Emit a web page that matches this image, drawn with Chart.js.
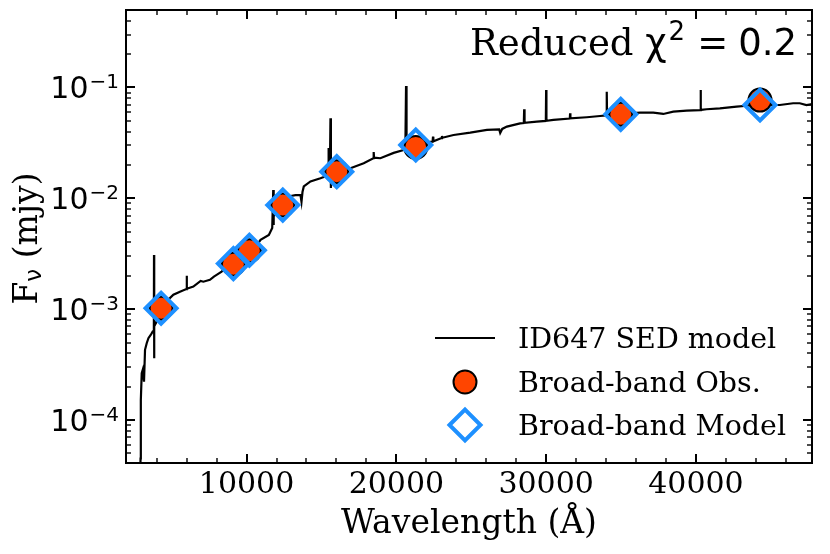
<!DOCTYPE html>
<html>
<head>
<meta charset="utf-8">
<script src="https://cdn.jsdelivr.net/npm/chart.js@4.4.0/dist/chart.umd.min.js"></script>
<style>
html, body { margin: 0; padding: 0; background: #fff; }
#wrap { width: 830px; height: 554px; }
</style>
</head>
<body>
<div id="wrap"><canvas id="chart" width="830" height="554"></canvas></div>
<script>
// SED model spectrum (wavelength in Angstrom, flux in mJy)
const sedWave = [2850, 2920, 2940, 3000, 3067, 3153, 3220, 3333, 3447, 3600, 3733, 3810, 3820, 3828, 3840,
  4133, 4667, 5113, 5553, 5980, 6000, 6020, 6447, 6933, 7113, 7553, 7820, 8000, 8333, 8667, 9600,
  10600, 10933, 11487, 11713, 11780, 11800, 11820, 12000, 12200, 12933, 13267, 13600, 13667, 13733, 13820,
  14267, 14933, 15333, 15440, 15467, 15490, 15560, 15600, 15630, 15660, 16933, 17820, 18460, 18487, 18510,
  18933, 19820, 20487, 20600, 20647, 20680, 21313, 22267, 22420, 22447, 22470, 23020, 23047, 23070, 23820,
  24933, 26047, 26867, 26933, 27067, 27380, 28267, 28510, 28533, 28560, 29380, 29980, 30000, 30020, 30487,
  31580, 31600, 31620, 32713, 33600, 34027, 34047, 34067, 34980, 36267, 37153, 37820, 38487, 39380,
  40293, 40313, 40333, 40713, 41600, 42713, 43600, 44600, 45600, 46487, 46933, 47380, 47800];
const sedFlux = [1.0e-5, 4.5e-5, 1.52e-4, 2.65e-4, 2.84e-4, 2.22e-4, 4.30e-4, 4.93e-4, 5.48e-4, 5.86e-4, 6.28e-4, 6.40e-4, 3.09e-3, 3.61e-4, 7.00e-4,
  8.36e-4, 1.18e-3, 1.35e-3, 1.44e-3, 1.52e-3, 2.00e-3, 1.53e-3, 1.60e-3, 1.80e-3, 1.77e-3, 1.84e-3, 1.97e-3, 2.04e-3, 2.18e-3, 2.46e-3, 2.96e-3,
  3.65e-3, 4.22e-3, 4.68e-3, 5.41e-3, 1.19e-2, 5.75e-3, 6.84e-3, 8.73e-3, 1.01e-2, 1.05e-2, 1.07e-2, 1.07e-2, 9.33e-3, 1.14e-2, 1.28e-2,
  1.42e-2, 1.52e-2, 1.59e-2, 1.60e-2, 2.85e-2, 1.60e-2, 1.62e-2, 5.27e-2, 1.24e-2, 1.65e-2, 1.87e-2, 2.07e-2, 2.30e-2, 2.62e-2, 2.33e-2,
  2.30e-2, 2.57e-2, 2.73e-2, 2.78e-2, 1.03e-1, 2.80e-2, 2.97e-2, 3.24e-2, 3.25e-2, 3.60e-2, 3.27e-2, 3.50e-2, 3.65e-2, 3.52e-2, 3.73e-2,
  3.91e-2, 4.14e-2, 4.18e-2, 3.89e-2, 4.23e-2, 4.44e-2, 4.75e-2, 4.78e-2, 6.36e-2, 4.80e-2, 4.92e-2, 4.99e-2, 9.49e-2, 5.00e-2, 5.10e-2,
  5.25e-2, 5.85e-2, 5.26e-2, 5.39e-2, 5.53e-2, 5.60e-2, 9.17e-2, 5.61e-2, 5.75e-2, 5.93e-2, 5.93e-2, 5.77e-2, 6.05e-2, 6.18e-2,
  6.26e-2, 9.49e-2, 6.27e-2, 6.36e-2, 6.49e-2, 6.71e-2, 6.88e-2, 6.95e-2, 6.95e-2, 7.21e-2, 7.21e-2, 6.95e-2, 7.10e-2];

// broad-band photometry
const bandWave = [4292, 9119, 10187, 12417, 16021, 21295, 34980, 44279];
const obsFlux = [1.02e-3, 2.55e-3, 3.36e-3, 8.7e-3, 1.74e-2, 2.88e-2, 5.73e-2, 7.7e-2];
const modelFlux = [1.02e-3, 2.58e-3, 3.40e-3, 8.7e-3, 1.74e-2, 3.03e-2, 5.73e-2, 6.95e-2];

const xTicks = [10000, 20000, 30000, 40000];
const xMinorStep = 2000;
const yTicks = [1e-4, 1e-3, 1e-2, 1e-1];
const yTickExp = ['\u22124', '\u22123', '\u22122', '\u22121'];
const xRange = [1950, 47750];
const yRange = [4.1e-5, 0.5];

const seriesNames = ['ID647 SED model', 'Broad-band Obs.', 'Broad-band Model'];
const chiText = '0.2';

const ORANGE = '#FF4500';
const BLUE = '#1E90FF';
const SERIF = '"DejaVu Serif", serif';
const SANS = '"DejaVu Sans", sans-serif';

const frame = {
  id: 'frame',
  afterDatasetsDraw(chart) {
    const { ctx, chartArea: a, scales: { x, y } } = chart;
    ctx.save();
    ctx.strokeStyle = '#000';
    ctx.fillStyle = '#000';
    const seg = (x1, y1, x2, y2, w) => {
      ctx.lineWidth = w;
      ctx.beginPath(); ctx.moveTo(x1, y1); ctx.lineTo(x2, y2); ctx.stroke();
    };
    // x ticks, inward, bottom and top
    for (let v = xMinorStep; v <= xRange[1]; v += xMinorStep) {
      const px = Math.round(x.getPixelForValue(v));
      if (px <= a.left + 1 || px >= a.right - 1) continue;
      const major = xTicks.includes(v);
      const len = major ? 9 : 5, w = major ? 2 : 1.4;
      seg(px, a.bottom, px, a.bottom - len, w);
      seg(px, a.top, px, a.top + len, w);
    }
    // y ticks, inward, left and right
    for (let e = -5; e <= 0; e++) {
      for (let m = 1; m <= 9; m++) {
        const v = m * Math.pow(10, e);
        if (v < yRange[0] || v > yRange[1]) continue;
        const py = Math.round(y.getPixelForValue(v));
        if (py <= a.top + 1 || py >= a.bottom - 1) continue;
        const major = m === 1;
        const len = major ? 9 : 5, w = major ? 2 : 1.4;
        seg(a.left, py, a.left + len, py, w);
        seg(a.right, py, a.right - len, py, w);
      }
    }
    ctx.lineWidth = 2;
    ctx.strokeRect(a.left, a.top, a.right - a.left, a.bottom - a.top);

    // x tick labels
    ctx.font = '30px ' + SERIF;
    ctx.textAlign = 'center';
    ctx.textBaseline = 'alphabetic';
    xTicks.forEach(v => ctx.fillText(String(v), x.getPixelForValue(v), a.bottom + 30));

    // y tick labels 10^-n
    yTicks.forEach((v, i) => {
      const py = y.getPixelForValue(v);
      ctx.textAlign = 'left';
      ctx.font = '30px ' + SANS;
      const w1 = ctx.measureText('10').width;
      ctx.font = '20px ' + SANS;
      const w2 = ctx.measureText(yTickExp[i]).width;
      const x0 = a.left - 8 - w1 - w2;
      ctx.font = '30px ' + SANS;
      ctx.fillText('10', x0, py + 11);
      ctx.font = '20px ' + SANS;
      ctx.fillText(yTickExp[i], x0 + w1 + 1, py + 1);
    });

    // axis titles
    ctx.font = '33px ' + SERIF;
    ctx.textAlign = 'center';
    ctx.fillText('Wavelength (\u00C5)', (a.left + a.right) / 2, 533);

    ctx.save();
    ctx.translate(37, (a.top + a.bottom) / 2 + 2);
    ctx.rotate(-Math.PI / 2);
    ctx.textAlign = 'left';
    ctx.font = '33px ' + SERIF;
    const fW = ctx.measureText('F').width;
    ctx.font = '23px ' + SANS;
    const nuW = ctx.measureText('\u03BD').width;
    ctx.font = '33px ' + SERIF;
    const restW = ctx.measureText(' (mjy)').width;
    const tot = fW + nuW + restW;
    let cx = -tot / 2;
    ctx.fillText('F', cx, 0); cx += fW;
    ctx.font = '23px ' + SANS;
    ctx.fillText('\u03BD', cx, 4); cx += nuW;
    ctx.font = '33px ' + SERIF;
    ctx.fillText(' (mjy)', cx, 0);
    ctx.restore();

    // reduced chi^2 annotation
    ctx.textAlign = 'left';
    const parts = [
      ['Reduced ', '37px ' + SERIF, 0, 0],
      ['\u03C7', '37px ' + SANS, 0, 2],
      ['2', '26px ' + SANS, -15, 12],
      ['=', '37px ' + SANS, 0, 10],
      [chiText, '37px ' + SANS, 0, 0]
    ];
    let total = 0;
    parts.forEach(p => { ctx.font = p[1]; total += ctx.measureText(p[0]).width + p[3]; });
    let tx = 797 - total;
    parts.forEach(p => {
      ctx.font = p[1];
      ctx.fillText(p[0], tx, 55 + p[2]);
      tx += ctx.measureText(p[0]).width + p[3];
    });

    // legend
    const lx = 465, rows = [338, 382, 425];
    seg(435, rows[0], 495, rows[0], 2);
    ctx.beginPath();
    ctx.arc(lx, rows[1], 11.5, 0, Math.PI * 2);
    ctx.fillStyle = ORANGE; ctx.fill();
    ctx.lineWidth = 2; ctx.strokeStyle = '#000'; ctx.stroke();
    ctx.beginPath();
    ctx.moveTo(lx - 15.5, rows[2]); ctx.lineTo(lx, rows[2] - 15.5);
    ctx.lineTo(lx + 15.5, rows[2]); ctx.lineTo(lx, rows[2] + 15.5); ctx.closePath();
    ctx.lineWidth = 4; ctx.strokeStyle = BLUE; ctx.stroke();
    ctx.fillStyle = '#000';
    ctx.font = '28.5px ' + SERIF;
    ctx.textAlign = 'left';
    seriesNames.forEach((n, i) => ctx.fillText(n, 518, rows[i] + 10));
    ctx.restore();
  }
};

const ctx = document.getElementById('chart').getContext('2d');
new Chart(ctx, {
  type: 'scatter',
  data: {
    datasets: [
      {
        label: seriesNames[0],
        type: 'line',
        data: sedWave.map((w, i) => ({ x: w, y: sedFlux[i] })),
        borderColor: '#000',
        borderWidth: 2.2,
        pointRadius: 0,
        fill: false,
        tension: 0,
        order: 3
      },
      {
        label: seriesNames[1],
        data: bandWave.map((w, i) => ({ x: w, y: obsFlux[i] })),
        pointStyle: 'circle',
        pointRadius: 11.5,
        pointBackgroundColor: ORANGE,
        pointBorderColor: '#000',
        pointBorderWidth: 2,
        order: 2
      },
      {
        label: seriesNames[2],
        data: bandWave.map((w, i) => ({ x: w, y: modelFlux[i] })),
        pointStyle: 'rectRot',
        pointRadius: 15.5,
        pointBackgroundColor: 'rgba(0,0,0,0)',
        pointBorderColor: BLUE,
        pointBorderWidth: 4,
        order: 1
      }
    ]
  },
  options: {
    responsive: false,
    animation: false,
    devicePixelRatio: 1,
    layout: { autoPadding: false, padding: { left: 0, right: 18, top: 10, bottom: 0 } },
    plugins: { legend: { display: false }, tooltip: { enabled: false } },
    scales: {
      x: {
        type: 'linear', min: xRange[0], max: xRange[1],
        grid: { display: false }, border: { display: false }, ticks: { display: false },
        afterFit(s) { s.height = 91; }
      },
      y: {
        type: 'logarithmic', min: yRange[0], max: yRange[1],
        grid: { display: false }, border: { display: false }, ticks: { display: false },
        afterFit(s) { s.width = 126; }
      }
    }
  },
  plugins: [frame]
});
</script>
</body>
</html>
